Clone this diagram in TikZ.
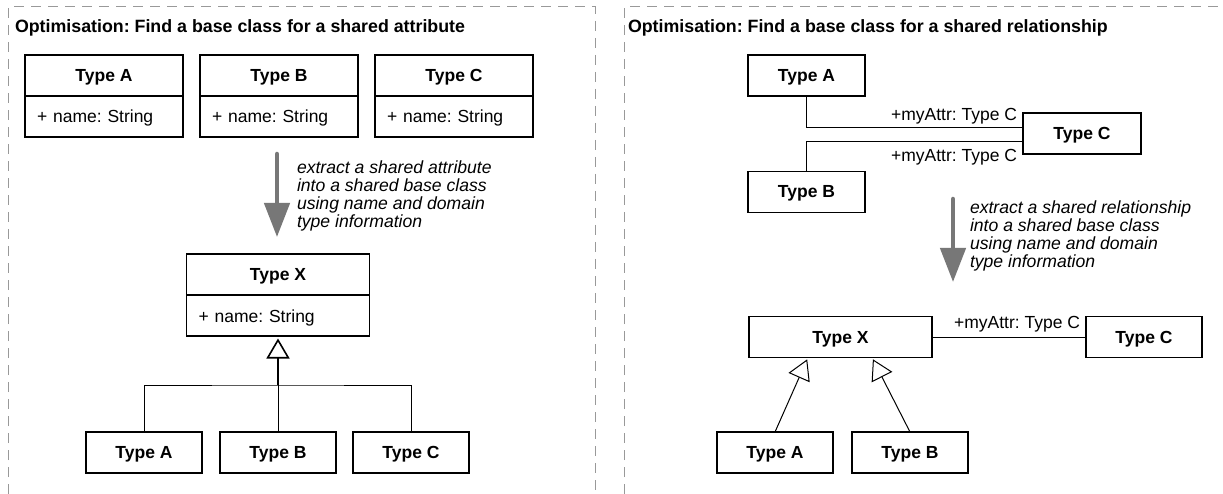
\documentclass[tikz,border=0pt]{standalone}
\usepackage{fontspec}
\setmainfont{Liberation Sans}
\usetikzlibrary{arrows.meta}
\definecolor{framegray}{HTML}{999999}
\definecolor{arrowgray}{HTML}{777777}
\frenchspacing
\begin{document}
\begin{tikzpicture}[x=1pt,y=-1pt,
  every node/.style={inner sep=0pt, outer sep=0pt},
  titletext/.style={font=\fontsize{17.8}{17.8}\selectfont\bfseries},
  box/.style={draw, line width=1.1pt, minimum height=41pt,
    font=\fontsize{17.5}{17.7}\selectfont\bfseries, text height=12.5pt, text depth=0.5pt},
  attr/.style={draw, line width=1.1pt, minimum height=41pt, inner xsep=12pt, align=left,
    font=\fontsize{17.5}{17.7}\selectfont, text height=13pt, text depth=0pt},
  note/.style={align=left, font=\fontsize{17.6}{17.7}\selectfont\itshape},
  assoc/.style={font=\fontsize{17.5}{17.7}\selectfont},
  frame/.style={draw=framegray, line width=1pt, dash pattern=on 10pt off 7pt},
  bigarrow/.style={draw=arrowgray, line width=4.5pt, line cap=round,
    -{Triangle[length=34pt, width=25pt, fill=arrowgray]}},
  gen/.style={line width=1pt, -{Triangle[open, length=20pt, width=23pt]}},
  line/.style={line width=1pt}
]
\useasboundingbox (0,0) rectangle (1223,494);
\fill[white] (0,0) rectangle (1223,494);

% frames
\draw[frame] (8,494) -- (8,7) -- (595,7) -- (595,494);
\draw[frame] (624,494) -- (624,7) -- (1223,7);

% ---------- left panel ----------
\node[titletext, anchor=base west] (T1) at (15,33) {Optimisation: Find a base class for a shared attribute};

\node[box, minimum width=158pt] (LAh) at (104,75.5) {Type A};
\node[attr, text width=134pt, anchor=north] (LAa) at (LAh.south) {+ name: String};
\node[box, minimum width=158pt] (LBh) at (279,75.5) {Type B};
\node[attr, text width=134pt, anchor=north] (LBa) at (LBh.south) {+ name: String};
\node[box, minimum width=158pt] (LCh) at (454,75.5) {Type C};
\node[attr, text width=134pt, anchor=north] (LCa) at (LCh.south) {+ name: String};

\coordinate (LS1) at (277,154);
\coordinate (LS2) at (277,237);
\draw[bigarrow] (LS1) -- (LS2);
\node[note, anchor=north west] (LN) at (297,161.2) {extract a shared attribute\\into a shared base class\\using name and domain\\type information};

\node[box, minimum width=183pt] (LXh) at (278,274.5) {Type X};
\node[attr, text width=159pt, anchor=north] (LXa) at (LXh.south) {+ name: String};

\node[box, minimum width=116pt] (LA) at (144,452.5) {Type A};
\node[box, minimum width=116pt] (LB) at (278,452.5) {Type B};
\node[box, minimum width=116pt] (LC) at (411,452.5) {Type C};

\coordinate (J) at (278,385);
\draw[line] (LA.north) |- (J) -| (LC.north);
\draw[line] (LB.north) -- (J);
\draw[gen, line width=1.6pt, shorten >=2.5pt] (J) -- (LXa.south);

% ---------- right panel ----------
\node[titletext, anchor=base west] (T2) at (628,33) {Optimisation: Find a base class for a shared relationship};

\node[box, minimum width=117pt] (RA) at (806.5,75.5) {Type A};
\node[box, minimum width=118pt] (RC) at (1082,133.5) {Type C};
\node[box, minimum width=117pt] (RB) at (806.5,192) {Type B};

\draw[line] (RA.south) |- ([yshift=5.5pt]RC.west)
  node[assoc, pos=1, anchor=base east, xshift=-6pt, yshift=7pt] (L1) {+myAttr: Type C};
\draw[line] ([yshift=-8.5pt]RC.west) -| (RB.north)
  node[assoc, pos=0, anchor=base east, xshift=-6pt, yshift=-20pt] (L2) {+myAttr: Type C};

\coordinate (RS1) at (953,199);
\coordinate (RS2) at (953,282);
\draw[bigarrow] (RS1) -- (RS2);
\node[note, anchor=north west] (RN) at (970,201.2) {extract a shared relationship\\into a shared base class\\using name and domain\\type information};

\node[box, minimum width=183pt] (RX) at (840.5,337) {Type X};
\node[box, minimum width=116pt] (RC2) at (1144,337) {Type C};
\draw[line] (RX.east) -- (RC2.west)
  node[assoc, pos=1, anchor=base east, xshift=-6pt, yshift=9pt] (L3) {+myAttr: Type C};

\node[box, minimum width=116pt] (RA2) at (775,452.5) {Type A};
\node[box, minimum width=116pt] (RB2) at (910,452.5) {Type B};
\coordinate (RXa) at ([xshift=-32.5pt]RX.south);
\coordinate (RXb) at ([xshift=31.5pt]RX.south);
\draw[gen, shorten >=2pt] (RA2.north) -- (RXa);
\draw[gen, shorten >=2pt] (RB2.north) -- (RXb);
\end{tikzpicture}
\end{document}
